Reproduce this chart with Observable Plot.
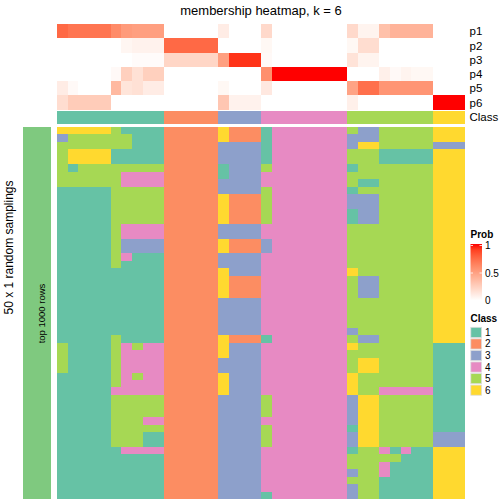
<!DOCTYPE html>
<html><head><meta charset="utf-8">
<script src="https://cdn.jsdelivr.net/npm/d3@7"></script>
<script src="https://cdn.jsdelivr.net/npm/@observablehq/plot@0.6"></script>
<style>
body{margin:0;background:#fff;}
#wrap{position:relative;width:504px;height:504px;overflow:hidden;background:#fff;font-family:"Liberation Sans",Arial,sans-serif;}
#wrap svg{position:absolute;left:0;}
</style></head><body><div id="wrap"></div>
<script>
// ---------- data ----------
const title = "membership heatmap, k = 6";
const probNames = ["p1", "p2", "p3", "p4", "p5", "p6"];
const p1 = [.75,.7,.7,.7,.7,.6,.52,.5,.5,.5, 0,0,0,0,0, .1,0,0,0,.2, 0,0,0,0,0,0,0, .2,.06,.06,.33,.4,.4,.4,.4, 0,0,0];
const p2 = [0,0,0,0,0,0,.05,.07,.07,.07, .75,.75,.75,.75,.75, 0,0,0,0,.04, 0,0,0,0,0,0,0, .04,.18,.18,0,0,0,0,0, 0,0,0];
const p3 = [0,0,0,0,0,0,0,.02,.02,.02, .22,.22,.22,.22,.22, .5,.93,.93,.93,.03, 0,0,0,0,0,0,0, .15,.06,.06,0,0,0,0,0, 0,0,0];
const p4 = [0,0,0,0,0,.03,.25,.16,.25,.25, 0,0,0,0,0, 0,0,0,0,.58, 1,1,1,1,1,1,1, 0,0,0,.08,.03,.06,.04,.04, 0,0,0];
const p5 = [.1,.03,0,0,0,.37,.14,.16,.1,.1, 0,0,0,0,0, .04,0,0,0,.12, 0,0,0,0,0,0,0, .48,.72,.72,.55,.55,.55,.55,.55, 0,0,0];
const p6 = [.18,.27,.27,.27,.27,0,0,0,0,0, 0,0,0,0,0, .3,.07,.07,.07,0, 0,0,0,0,0,0,0, .08,0,0,0,0,0,0,0, 1,1,1];
const classRow = "1111111111 22222 33334 4444444 55555555 666";
const classLabels = ["1", "2", "3", "4", "5", "6"];
const classColors = ["#66C2A5", "#FC8D62", "#8DA0CB", "#E78AC3", "#A6D854", "#FFD92F"];
const samplings = [
  "6666651111 22222 62221 4444444 53355555 666",
  "3555555111 22222 62221 4444444 33355555 666",
  "5555555111 22222 33331 4444444 36655555 333",
  "5666611111 22222 33331 4444444 55511111 666",
  "5666611111 22222 33331 4444444 55511111 666",
  "5155555555 22222 13335 4444444 15555555 666",
  "5555554444 22222 13334 4444444 55555555 666",
  "5555554444 22222 33334 4444444 51155555 666",
  "1111155555 22222 33335 4444444 15555555 666",
  "1111155555 22222 62225 4444444 33355555 666",
  "1111155555 22222 62225 4444444 33355555 666",
  "1111155555 22222 62225 4444444 13355555 666",
  "1111155555 22222 62225 4444444 13355555 666",
  "1111154444 22222 33334 4444444 55555555 666",
  "1111154444 22222 33334 4444444 55555555 666",
  "1111153333 22222 62223 4444444 55555555 666",
  "1111153333 22222 62223 4444444 55555555 666",
  "1111154111 22222 33334 4444444 55555555 666",
  "1111151111 22222 33334 4444444 55555555 666",
  "1111111111 22222 63334 4444444 65555555 666",
  "1111111111 22222 62224 4444444 53355555 666",
  "1111111111 22222 62224 4444444 53355555 666",
  "1111111111 22222 62224 4444444 53355555 666",
  "1111111111 22222 33334 4444444 55555555 666",
  "1111111111 22222 33334 4444444 55555555 666",
  "1111111111 22222 33334 4444444 55555555 666",
  "1111111111 22222 33334 4444444 55555555 666",
  "1111111111 22222 33334 4444444 35555555 666",
  "1111151111 22222 62221 4444444 53355555 666",
  "5111154544 22222 63334 4444444 65555555 111",
  "5111154444 22222 63334 4444444 55555555 111",
  "5111154444 22222 33334 4444444 56655555 111",
  "5111154444 22222 33334 4444444 56655555 111",
  "1111154544 22222 63334 4444444 65555555 111",
  "1111154444 22222 63334 4444444 65555555 111",
  "1111144444 22222 63334 4444444 65544444 111",
  "1111155555 22222 33335 4444444 36655555 111",
  "1111155555 22222 33335 4444444 36655555 111",
  "1111155555 22222 33335 4444444 36655555 111",
  "1111155544 22222 33334 4444444 36655555 111",
  "1111155555 22222 33335 4444444 16655555 111",
  "1111155511 22222 33335 4444444 36655555 333",
  "1111155511 22222 33335 4444444 36655555 333",
  "1111114444 22222 33334 4444444 15541411 666",
  "1111111111 22222 33334 4444444 55555111 666",
  "1111111111 22222 33334 4444444 55541111 666",
  "1111111111 22222 33334 4444444 35541111 666",
  "1111111111 22222 33334 4444444 55511111 666",
  "1111111111 22222 33334 4444444 35511111 666",
  "1111111111 22222 33331 4444444 35511111 666"
];
const annotName = "top 1000 rows";
const annotColor = "#7FC97F";
const rowTitle = "50 x 1 random samplings";
const probTicks = [0, 0.5, 1];

// ---------- derived tables ----------
const clean = s => s.replace(/\s+/g, "");
const classCells = clean(classRow).split("").map((c, j) => ({col: j, row: "Class", cls: c}));
const colIds = classCells.map(d => d.col);
const probValues = [p1, p2, p3, p4, p5, p6];
const probData = probNames.flatMap((name, i) => probValues[i].map((p, j) => ({row: name, col: j, p})));
const sampData = samplings.flatMap((s, r) => clean(s).split("").map((c, j) => ({row: r, col: j, cls: c})));
const sampRows = samplings.map((_, r) => r);

const font = '"Liberation Sans", Arial, sans-serif';
const wrap = document.getElementById("wrap");
const place = (svg, top) => { svg.style.position = "absolute"; svg.style.top = top + "px"; svg.style.left = "0px"; svg.style.background = "transparent"; wrap.appendChild(svg); };

// top: probability rows + class row
const topPlot = Plot.plot({
  width: 504, height: 125,
  marginTop: 24, marginBottom: 1, marginLeft: 57, marginRight: 39,
  x: {type: "band", domain: colIds, padding: 0, round: false, axis: null},
  y: {type: "band", domain: [...probNames, "Class"], padding: 0, round: false, axis: "right", tickSize: 0, tickPadding: 4, label: null},
  color: {type: "linear", domain: [0, 1], range: ["white", "red"], interpolate: "lab"},
  style: {fontSize: "11.5px", fontFamily: font, color: "black", background: "transparent"},
  marks: [
    Plot.cell(probData, {x: "col", y: "row", fill: "p", shapeRendering: "crispEdges"}),
    ...classLabels.map((k, i) => Plot.cell(classCells.filter(d => d.cls === k), {x: "col", y: "row", fill: classColors[i], insetTop: 1, shapeRendering: "crispEdges"}))
  ]
});
place(topPlot, 0);

// bottom: 50 random samplings
const bottomPlot = Plot.plot({
  width: 504, height: 375,
  marginTop: 2, marginBottom: 1, marginLeft: 57, marginRight: 39,
  x: {type: "band", domain: colIds, padding: 0, round: false, axis: null},
  y: {type: "band", domain: sampRows, padding: 0, round: false, axis: null},
  color: {type: "ordinal", domain: classLabels, range: classColors},
  style: {background: "transparent"},
  marks: [Plot.cell(sampData, {x: "col", y: "row", fill: "cls", shapeRendering: "crispEdges"})]
});
place(bottomPlot, 125);

// left annotation bar
const annotPlot = Plot.plot({
  width: 57, height: 375,
  marginTop: 2, marginBottom: 1, marginLeft: 23, marginRight: 6,
  x: {type: "band", domain: [annotName], padding: 0, round: false, axis: null},
  style: {background: "transparent", fontFamily: font, color: "black"},
  marks: [
    Plot.cell([annotName], {x: d => d, fill: annotColor}),
    Plot.text([annotName], {x: d => d, text: d => d, rotate: -90, frameAnchor: "middle", fontSize: 9.5, fontFamily: "Liberation Sans", dx: 4, fill: "black"})
  ]
});
place(annotPlot, 125);

// overlay: titles and legends
const color = d3.interpolateLab("white", "red");
const svg = d3.create("svg").attr("width", 504).attr("height", 504)
  .style("font-family", font).style("background", "transparent").style("top", "0px");
svg.append("text").attr("x", 261).attr("y", 15).attr("text-anchor", "middle").attr("font-size", 13).text(title);
svg.append("text").attr("transform", "translate(13,247.5) rotate(-90)").attr("text-anchor", "middle").attr("font-size", 12).text(rowTitle);

// Prob legend
svg.append("text").attr("x", 470.5).attr("y", 238).attr("font-size", 10).attr("font-weight", "bold").text("Prob");
const grad = svg.append("defs").append("linearGradient").attr("id", "pg").attr("x1", 0).attr("x2", 0).attr("y1", 0).attr("y2", 1);
d3.range(0, 1.0001, 0.1).forEach(o => grad.append("stop").attr("offset", o).attr("stop-color", color(1 - o)));
const barTop = 244, barBot = 300.5;
svg.append("rect").attr("x", 470.5).attr("y", barTop).attr("width", 11.5).attr("height", barBot - barTop).attr("fill", "url(#pg)");
const py = v => barBot - v * (barBot - barTop - 1.5);
probTicks.forEach(v => {
  svg.append("text").attr("x", 485).attr("y", py(v)).attr("dy", "0.35em").attr("font-size", 10).text(String(v));
  if (v > 0) {
    svg.append("line").attr("x1", 470.5).attr("x2", 473).attr("y1", py(v)).attr("y2", py(v)).attr("stroke", "white").attr("stroke-width", 0.8);
    svg.append("line").attr("x1", 479.5).attr("x2", 482).attr("y1", py(v)).attr("y2", py(v)).attr("stroke", "white").attr("stroke-width", 0.8);
  }
});

// Class legend
svg.append("text").attr("x", 470.5).attr("y", 321.5).attr("font-size", 10).attr("font-weight", "bold").text("Class");
classLabels.forEach((k, i) => {
  const y = 327.3 + i * 11.55;
  svg.append("rect").attr("x", 470.8).attr("y", y).attr("width", 10.8).attr("height", 10.2)
    .attr("fill", classColors[i]).attr("stroke", "#dddddd").attr("stroke-width", 0.8);
  svg.append("text").attr("x", 485).attr("y", y + 5.1).attr("dy", "0.35em").attr("font-size", 10).text(k);
});
place(svg.node(), 0);
</script></body></html>
